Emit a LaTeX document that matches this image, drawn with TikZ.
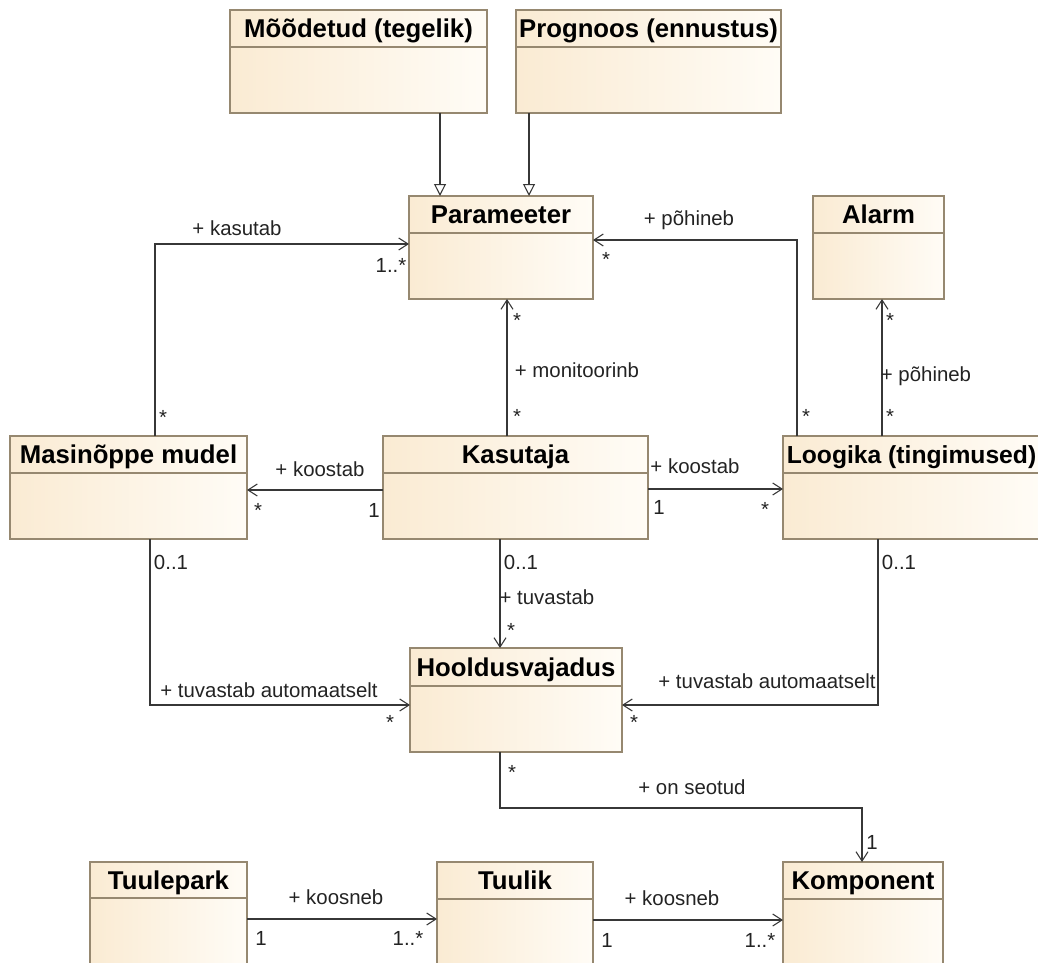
\documentclass[tikz,border=0pt]{standalone}
\usepackage{fontspec}
\setmainfont{Liberation Sans}
\usetikzlibrary{arrows.meta}

\definecolor{clsfillL}{RGB}{250,235,211}
\definecolor{clsfillR}{RGB}{255,252,246}
\definecolor{clsborder}{RGB}{150,136,112}
\definecolor{wire}{RGB}{55,55,55}
\definecolor{txt}{RGB}{35,35,35}

\tikzset{
  cls/.style={draw=clsborder, line width=0.9pt, left color=clsfillL, right color=clsfillR,
              inner sep=0pt, outer sep=0pt},
  clsdiv/.style={draw=clsborder, line width=0.9pt},
  clstitle/.style={anchor=base, inner sep=0pt, text=black,
                   font=\fontsize{19.3}{21}\selectfont\bfseries},
  lbl/.style={anchor=base, inner sep=0pt, text=txt, font=\fontsize{15.3}{17}\selectfont},
  assoc/.style={draw=wire, line width=0.9pt,
                -{Straight Barb[length=7pt,width=9pt,line width=0.8pt]}},
  gen/.style={draw=wire, line width=0.9pt,
              -{Triangle[open,length=9pt,width=9pt,fill=white,line width=0.8pt]}},
}

% class box: name, x1, y1, x2, y2, y of header line, title
\newcommand\umlclass[7]{%
  \node[cls, minimum width={(#4-#2)*0.75pt}, minimum height={(#5-#3)*0.75pt}]
    (#1) at ({(#2+#4)/2},{(#3+#5)/2}) {};
  \draw[clsdiv] ({#2},{#6}) -- ({#4},{#6});
  \node[clstitle] (#1-title) at ({(#2+#4)/2},{(#3+#6)/2+9}) {#7};
}

\begin{document}
\begin{tikzpicture}[x=0.75pt,y=-0.75pt]
  \fill[white] (0,0) rectangle (1038,963);
  \useasboundingbox (0,0) rectangle (1038,963);

  % classes
  \umlclass{mood}{230}{10}{487}{113}{47}{Mõõdetud (tegelik)}
  \umlclass{prog}{516}{10}{781}{113}{47}{Prognoos (ennustus)}
  \umlclass{par}{409}{196}{593}{299}{233}{Parameeter}
  \umlclass{alarm}{813}{196}{944}{299}{233}{Alarm}
  \umlclass{mas}{10}{436}{247}{539}{473}{Masinõppe mudel}
  \umlclass{kas}{383}{436}{648}{539}{473}{Kasutaja}
  \umlclass{log}{783}{436}{1040}{539}{473}{\fontsize{18.5}{20}\selectfont Loogika (tingimused)}
  \umlclass{hool}{410}{648}{622}{752}{686}{Hooldusvajadus}
  \umlclass{park}{90}{862}{247}{1000}{898}{Tuulepark}
  \umlclass{tuulik}{437}{862}{593}{1000}{899}{Tuulik}
  \umlclass{komp}{783}{862}{943}{1000}{899}{Komponent}

  % bend points
  \coordinate (kasB) at (155,244);
  \coordinate (phB) at (797,240);
  \coordinate (taL) at (150,705);
  \coordinate (taR) at (878,705);
  \coordinate (osA) at (500,808);
  \coordinate (osB) at (862,808);

  % generalizations
  \draw[gen] (mood.south -| 440,0) -- (par.north -| 440,0);
  \draw[gen] (prog.south -| 529,0) -- (par.north -| 529,0);

  % associations
  \draw[assoc] (mas.north -| kasB) |- (par.west |- kasB);
  \draw[assoc] (log.north -| phB) |- (par.east |- phB);
  \draw[assoc] (log.north -| 882,0) -- (alarm.south -| 882,0);
  \draw[assoc] (kas.north -| 507,0) -- (par.south -| 507,0);
  \draw[assoc] (kas.west |- 0,490) -- (mas.east |- 0,490);
  \draw[assoc] (kas.east |- 0,489) -- (log.west |- 0,489);
  \draw[assoc] (kas.south -| 500,0) -- (hool.north -| 500,0);
  \draw[assoc] (mas.south -| taL) |- (hool.west |- taL);
  \draw[assoc] (log.south -| taR) |- (hool.east |- taR);
  \draw[assoc] (hool.south -| osA) -- (osA) -- (osB) -- (komp.north -| osB);
  \draw[assoc] (park.east |- 0,919) -- (tuulik.west |- 0,919);
  \draw[assoc] (tuulik.east |- 0,920) -- (komp.west |- 0,920);

  % role names and multiplicities
  \node[lbl] (l1) at (237,235) {+ kasutab};
  \node[lbl] (m1a) at (391,272) {1..*};
  \node[lbl] (m1b) at (163,424) {*};

  \node[lbl] (l2) at (689,225) {+ põhineb};
  \node[lbl] (m2a) at (606,266) {*};
  \node[lbl] (m2b) at (806,423) {*};

  \node[lbl] (l3) at (577,377) {+ monitoorinb};
  \node[lbl] (m3a) at (517,327) {*};
  \node[lbl] (m3b) at (517,423) {*};

  \node[lbl] (l4) at (926,381) {+ põhineb};
  \node[lbl] (m4a) at (890,327) {*};
  \node[lbl] (m4b) at (890,423) {*};

  \node[lbl] (l5) at (320,476) {+ koostab};
  \node[lbl] (m5a) at (258,517) {*};
  \node[lbl] (m5b) at (374,517) {1};

  \node[lbl] (l6) at (695,473) {+ koostab};
  \node[lbl] (m6a) at (659,514) {1};
  \node[lbl] (m6b) at (765,516) {*};

  \node[lbl] (m7a) at (171,569) {0..1};
  \node[lbl] (m8a) at (521,569) {0..1};
  \node[lbl] (m9a) at (899,569) {0..1};

  \node[lbl] (l8) at (547,604) {+ tuvastab};
  \node[lbl] (m8b) at (511,637) {*};

  \node[lbl] (l7) at (269,697) {+ tuvastab automaatselt};
  \node[lbl] (m7b) at (390,729) {*};

  \node[lbl] (l9) at (767,688) {+ tuvastab automaatselt};
  \node[lbl] (m9b) at (634,729) {*};

  \node[lbl] (m10a) at (512,779) {*};
  \node[lbl] (l10) at (692,794) {+ on seotud};
  \node[lbl] (m10b) at (872,849) {1};

  \node[lbl] (l11) at (336,904) {+ koosneb};
  \node[lbl] (m11a) at (261,945) {1};
  \node[lbl] (m11b) at (408,945) {1..*};

  \node[lbl] (l12) at (672,905) {+ koosneb};
  \node[lbl] (m12a) at (607,947) {1};
  \node[lbl] (m12b) at (760,947) {1..*};
\end{tikzpicture}
\end{document}
